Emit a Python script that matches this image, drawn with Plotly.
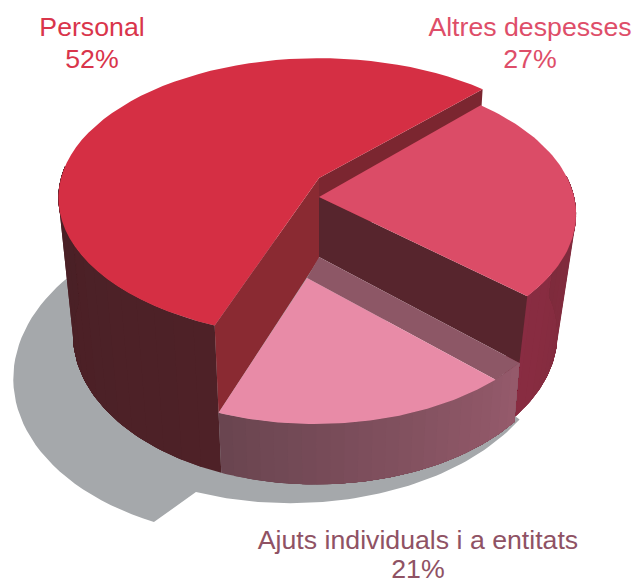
import numpy as np
import plotly.graph_objects as go

# Data
categories = ["Personal", "Altres despesses", "Ajuts individuals i a entitats"]
percent_labels = [52, 27, 21]
# The slice sizes as they are actually drawn in the reference, measured from its
# picture. They differ from the printed percentages above, as in the original.
drawn_shares = [56.6, 24.4, 19.0]
text_colors = ["#D9354B", "#DE4E69", "#8F5264"]

# Style
W, H = 637, 580
CX, CY, F, DIST = 319, 178, 1548, 6.0
SIN, COS = 0.53, 0.848
HEIGHT = 0.663
START = 45.7
C_SHADOW = "#A5A8AB"


def proj(X, Y, Z):
    X, Y, Z = np.asarray(X, float), np.asarray(Y, float), np.asarray(Z, float)
    depth = DIST + Y * COS - Z * SIN
    return CX + F * X / depth, CY - F * (Y * SIN + Z * COS) / depth


def arc(a0, a1, r=1.0, ox=0.0, oy=0.0, n=60):
    angles = np.linspace(a0, a1, n)
    t = np.radians(angles)
    radius = r(angles) if callable(r) else r
    return ox + radius * np.cos(t), oy + radius * np.sin(t)


fig = go.Figure()


def poly(points, color, lw=0.0):
    xs = np.concatenate([p[0] for p in points])
    ys = np.concatenate([p[1] for p in points])
    fig.add_trace(go.Scatter(
        x=np.append(xs, xs[0]), y=np.append(ys, ys[0]), mode="lines",
        fill="toself", fillcolor=color, line=dict(color=color, width=lw),
        hoverinfo="skip", showlegend=False))


def pt(X, Y, Z):
    x, y = proj([X], [Y], [Z])
    return x, y


def on_plane(xy, z):
    return proj(xy[0], xy[1], np.full_like(xy[0], z))


def blend(c0, c1, t):
    a = [int(c0[i:i + 2], 16) for i in (1, 3, 5)]
    b = [int(c1[i:i + 2], 16) for i in (1, 3, 5)]
    return "#" + "".join(f"{round(u + (v - u) * t):02X}" for u, v in zip(a, b))


def wall(a0, a1, ztop, zbot, c0, c1, r=1.0, oy_top=0.0, steps=16):
    # Each band runs to the wall's far end, so later bands overlap and leave no seams
    edges = np.linspace(a0, a1, steps + 1)
    for i in range(steps):
        n = max(8, 4 * (steps - i))
        top = on_plane(arc(edges[i], a1, r, 0, oy_top, n), ztop)
        bot = on_plane(arc(a1, edges[i], r, 0, 0, n), zbot)
        poly([top, bot], blend(c0, c1, i / (steps - 1)))


# Slice edges come from the drawn shares
sweeps = [s / sum(drawn_shares) * 360 for s in drawn_shares]
e_far = START
e_near = e_far + sweeps[0]           # Personal: back edge to near edge
e_right = e_far - sweeps[1]          # Altres: back edge to right edge
e_ajuts = e_near + sweeps[2]         # Ajuts: near edge to its right end

ALT_APEX_OY, ALT_OY, ALT_R = -0.136, -0.12, 0.97
AJ_Z, AJ_INNER_Z = -0.382, -0.278
AJ_APEX = (-0.047, -0.131)
AJ_FACE_END = 310.0


def aj_r(a):
    return 1.0 - 0.015 * (np.asarray(a, float) - e_near) / (e_ajuts - e_near)


# Ground shadow
poly([on_plane(arc(100, 247.5, 1.02, -0.18, -0.24), -HEIGHT),
      on_plane(arc(251.2, 325, 1.04, -0.1, -0.05), -HEIGHT)], C_SHADOW)

# Personal: outer wall, two inner walls, top
wall(e_near, 175, 0, -HEIGHT, "#4E2127", "#4A2026")
far = np.radians(e_far)
near = np.radians(e_near)
poly([pt(0, 0, 0), pt(np.cos(far), np.sin(far), 0),
      pt(np.cos(far), np.sin(far), -0.35), pt(0, 0, -0.35)], "#7B2630")
poly([pt(0, 0, 0), pt(np.cos(near), np.sin(near), 0),
      pt(np.cos(near), np.sin(near), AJ_Z), pt(0, 0, AJ_Z)], "#8A2A32")
poly([pt(0, 0, 0), on_plane(arc(e_far, e_near), 0)], "#D52F44")

# Altres despesses: outer wall, inner wall, top
wall(e_right - 5, 8, 0, -HEIGHT, "#8A2C42", "#7E2B3C", ALT_R, ALT_OY)
right = np.radians(e_right)
rx, ry = ALT_R * np.cos(right), ALT_R * np.sin(right)
aj_end = np.radians(e_ajuts)
bx, by = aj_r(e_ajuts) * np.cos(aj_end), aj_r(e_ajuts) * np.sin(aj_end)
poly([pt(0, ALT_APEX_OY, 0), pt(rx, ry + ALT_OY, 0),
      pt(bx, by, AJ_Z), pt(0, ALT_APEX_OY, AJ_INNER_Z)], "#57252D")
top_arc = on_plane(arc(e_right, e_far, ALT_R, 0, ALT_OY), 0)
poly([pt(0, ALT_APEX_OY, 0), top_arc], "#DB4C67")

# Ajuts: outer wall, strip behind the face, face
wall(e_near, e_ajuts, AJ_Z, -HEIGHT, "#6A4550", "#955A6B", aj_r, 0.0, 24)
face_end = np.radians(AJ_FACE_END)
poly([pt(0, ALT_APEX_OY, AJ_INNER_Z), pt(bx, by, AJ_Z),
      pt(aj_r(AJ_FACE_END) * np.cos(face_end), aj_r(AJ_FACE_END) * np.sin(face_end), AJ_Z),
      pt(AJ_APEX[0], AJ_APEX[1], AJ_Z)], "#8D5766")
poly([pt(AJ_APEX[0], AJ_APEX[1], AJ_Z), on_plane(arc(e_near, AJ_FACE_END, aj_r), AJ_Z)], "#E88BA7")

# Labels: name and percentage as separate lines
label_x = [92, 530, 418]
name_y = [29.5, 29.5, 542.5]
pct_y = [61.5, 61.5, 571.5]
for name, pct, col, lx, ny, py in zip(categories, percent_labels, text_colors, label_x, name_y, pct_y):
    fig.add_trace(go.Scatter(
        x=[lx, lx], y=[ny, py], mode="text", text=[name, f"{pct}%"],
        textposition="middle center", cliponaxis=False, hoverinfo="skip", showlegend=False,
        textfont=dict(family="Liberation Sans", size=26.7, color=col)))

fig.update_layout(
    width=W, height=H, margin=dict(l=0, r=0, t=0, b=0),
    paper_bgcolor="white", plot_bgcolor="white", showlegend=False,
    xaxis=dict(range=[0, W], visible=False, fixedrange=True),
    yaxis=dict(range=[H, 0], visible=False, fixedrange=True),
)
fig.write_html("out.html", config={"displayModeBar": False},
               post_script="document.body.style.margin='0';document.documentElement.style.overflow='hidden';")
